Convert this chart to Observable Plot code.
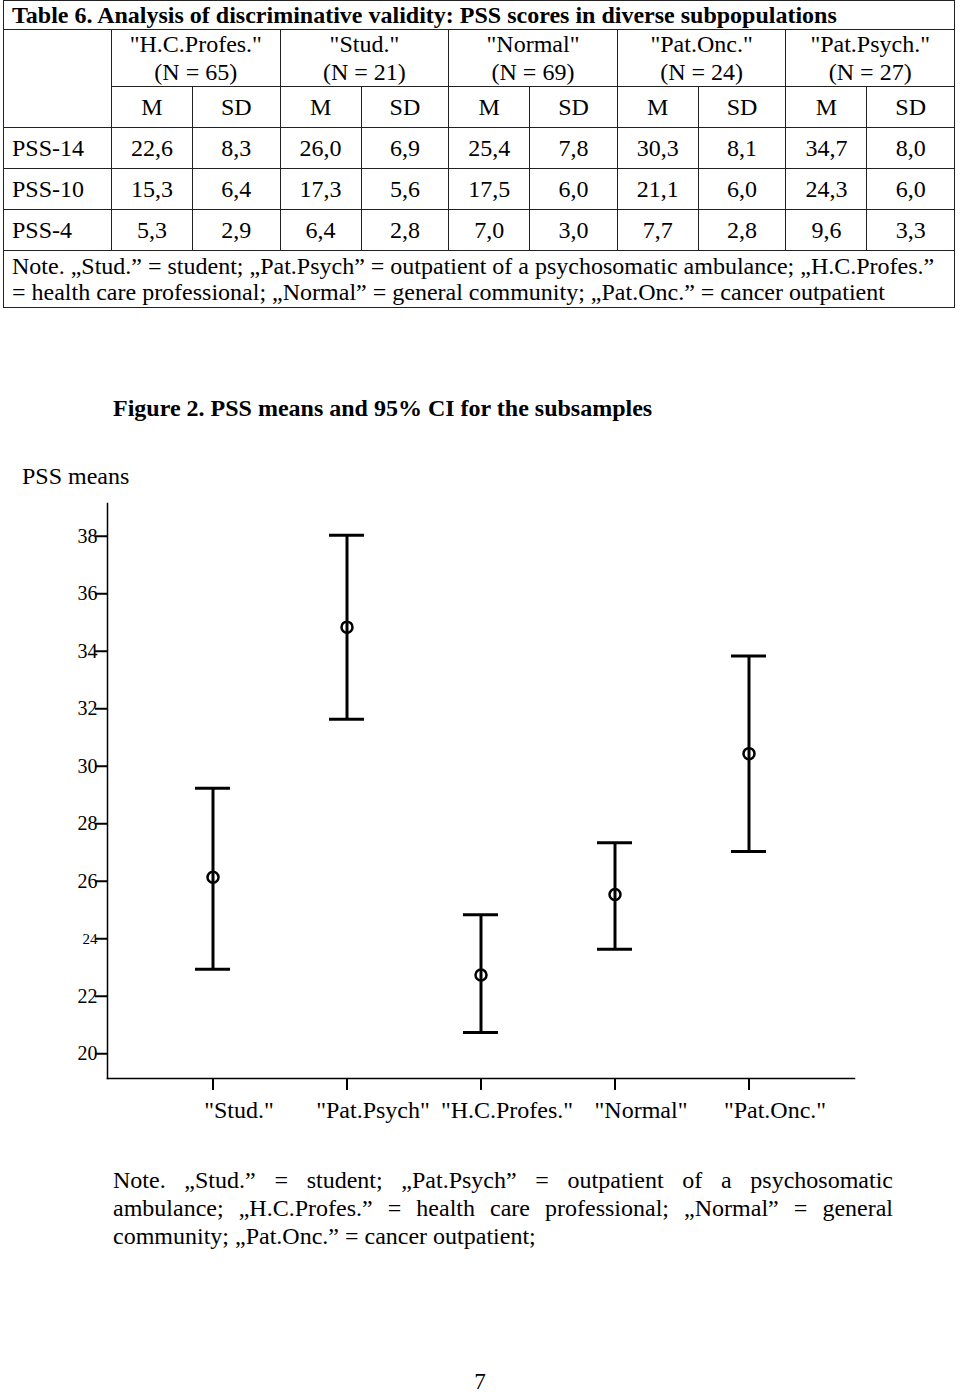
<!DOCTYPE html>
<html><head><meta charset="utf-8">
<script src="https://cdn.jsdelivr.net/npm/d3@7"></script>
<script src="https://cdn.jsdelivr.net/npm/@observablehq/plot@0.6"></script>
<style>
body{margin:0;background:#fff;width:960px;height:1397px;position:relative;font-family:"Liberation Serif","Times New Roman",serif;color:#000;overflow:hidden}
#tbl{position:absolute;left:3px;top:0;border-collapse:collapse;table-layout:fixed;width:952px;font-size:24px}
#tbl td{border:1px solid #222;padding:0;text-align:center;white-space:nowrap;overflow:visible;vertical-align:middle}
#tbl td.left{text-align:left;padding-left:8px}
#tbl td.title{font-weight:bold;line-height:26px}
#tbl td.grp{line-height:28px}
#tbl td.note{line-height:26px}
.abs{position:absolute;white-space:nowrap}
#figtitle{left:113px;top:396px;font-size:24px;font-weight:bold;line-height:24px}
#ylab{left:22px;top:464px;font-size:24px;line-height:24px}
#note{left:113px;top:1166px;width:780px;font-size:24px;line-height:28px}
#note div{text-align:justify;text-align-last:justify}
#note div.last{text-align-last:left}
#pagenum{left:470px;width:20px;text-align:center;top:1370px;font-size:23px;line-height:23px}
#chart{position:absolute;left:0;top:490px}
</style>
</head><body>
<table id="tbl"></table>
<div id="figtitle" class="abs">Figure 2. PSS means and 95% CI for the subsamples</div>
<div id="ylab" class="abs">PSS means</div>
<div id="chart"></div>
<div id="note" class="abs">
<div>Note. „Stud.” = student; „Pat.Psych” = outpatient of a psychosomatic</div>
<div>ambulance; „H.C.Profes.” = health care professional; „Normal” = general</div>
<div class="last">community; „Pat.Onc.” = cancer outpatient;</div>
</div>
<div id="pagenum" class="abs">7</div>
<script>
// ---- Table data ----
const tableTitle = "Table 6. Analysis of discriminative validity: PSS scores in diverse subpopulations";
const tableGroups = ['"H.C.Profes."', '"Stud."', '"Normal"', '"Pat.Onc."', '"Pat.Psych."'];
const tableN = [65, 21, 69, 24, 27];
const tableRows = ["PSS-14", "PSS-10", "PSS-4"];
const pss14 = ["22,6","8,3","26,0","6,9","25,4","7,8","30,3","8,1","34,7","8,0"];
const pss10 = ["15,3","6,4","17,3","5,6","17,5","6,0","21,1","6,0","24,3","6,0"];
const pss4  = ["5,3","2,9","6,4","2,8","7,0","3,0","7,7","2,8","9,6","3,3"];
const tableNote = ["Note. „Stud.” = student; „Pat.Psych” = outpatient of a psychosomatic ambulance; „H.C.Profes.”",
                   "= health care professional; „Normal” = general community; „Pat.Onc.” = cancer outpatient"];

// ---- Chart data ----
const groups = ['"Stud."', '"Pat.Psych"', '"H.C.Profes."', '"Normal"', '"Pat.Onc."'];
const means  = [26.0, 34.7, 22.6, 25.4, 30.3];
const ciLow  = [22.8, 31.5, 20.6, 23.5, 26.9];
const ciHigh = [29.1, 37.9, 24.7, 27.2, 33.7];
const yTicks = [20, 22, 24, 26, 28, 30, 32, 34, 36, 38];

// ---- Build table ----
const tbl = document.getElementById("tbl");
let html = '<colgroup><col style="width:108px">';
for (let i = 0; i < 5; i++) html += '<col style="width:81px"><col style="width:87.6px">';
html += '</colgroup>';
html += `<tr style="height:29px"><td colspan="11" class="left title">${tableTitle}</td></tr>`;
html += '<tr style="height:57px"><td rowspan="2"></td>' +
  tableGroups.map((g,i)=>`<td colspan="2" class="grp">${g}<br>(N = ${tableN[i]})</td>`).join("") + '</tr>';
html += '<tr style="height:41px">' + tableGroups.map(()=>'<td>M</td><td>SD</td>').join("") + '</tr>';
[pss14, pss10, pss4].forEach((row, r) => {
  html += `<tr style="height:41px"><td class="left">${tableRows[r]}</td>` + row.map(v=>`<td>${v}</td>`).join("") + '</tr>';
});
html += `<tr style="height:57px"><td colspan="11" class="left note">${tableNote.join("<br>")}</td></tr>`;
tbl.innerHTML = html;

// ---- Chart ----
const data = groups.map((g, i) => ({group: g, mean: means[i], lo: ciLow[i], hi: ciHigh[i]}));
const chart = Plot.plot({
  width: 960, height: 640,
  marginTop: 13, marginBottom: 52, marginLeft: 107, marginRight: 106,
  style: {fontFamily: '"Liberation Serif", "Times New Roman", serif', color: "#000", background: "transparent", overflow: "visible"},
  x: {type: "band", domain: groups, paddingInner: 0.74, paddingOuter: 0.651, label: null},
  y: {domain: [19, 39], label: null},
  marks: [
    Plot.frame({anchor: "left", strokeWidth: 1.5}),
    Plot.frame({anchor: "bottom", strokeWidth: 1.5}),
    Plot.axisY({ticks: yTicks, tickSize: 12, tickPadding: -2, tickFormat: d => String(d), fontSize: d => (d === 24 ? 15 : 20), strokeWidth: 2, dy: 4, label: null}),
    Plot.axisX({tickSize: 12, tickFormat: () => "", strokeWidth: 2, label: null}),
    Plot.axisX({tickSize: 0, tickPadding: 22, fontSize: 24, dx: 26, label: null}),
    Plot.ruleX(data, {x: "group", y1: "lo", y2: "hi", strokeWidth: 3}),
    Plot.tickY(data, {x: "group", y: "hi", strokeWidth: 3}),
    Plot.tickY(data, {x: "group", y: "lo", strokeWidth: 3}),
    Plot.dot(data, {x: "group", y: "mean", r: 5.5, stroke: "#000", strokeWidth: 2.5, fill: "none"})
  ]
});
document.getElementById("chart").appendChild(chart);
</script>
</body></html>
